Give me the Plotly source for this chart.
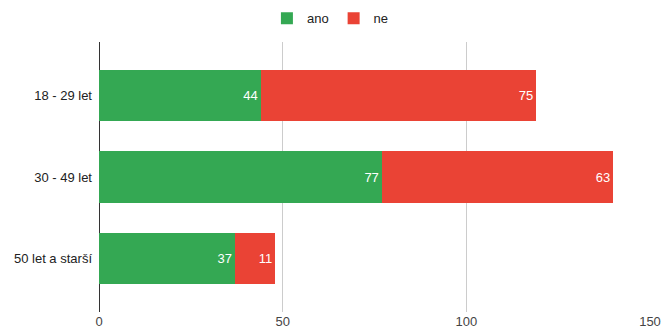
import plotly.graph_objects as go

categories = ["18 - 29 let", "30 - 49 let", "50 let a starší"]
ano = [44, 77, 37]
ne = [75, 63, 11]
x_ticks = [0, 50, 100, 150]

GREEN = "#34a853"
RED = "#ea4335"

fig = go.Figure()
for name, vals, col in [("ano", ano, GREEN), ("ne", ne, RED)]:
    fig.add_trace(go.Bar(
        y=categories, x=vals, name=name, orientation="h",
        marker=dict(color=col, line=dict(width=0)),
        width=0.63,
        text=[str(v) for v in vals], textposition="inside",
        insidetextanchor="end", textangle=0,
        textfont=dict(color="white", size=13, family="Liberation Sans, Arial"),
    ))

fig.update_layout(
    barmode="stack",
    width=662, height=331,
    margin=dict(l=99, r=12, t=42, b=19, autoexpand=False),
    paper_bgcolor="white", plot_bgcolor="white",
    font=dict(family="Liberation Sans, Arial", size=13, color="#222222"),
    showlegend=True,
    legend=dict(orientation="h", x=0.42, xanchor="center", y=0.945, yanchor="middle",
                yref="container", font=dict(size=13, color="#222222"),
                traceorder="normal"),
    xaxis=dict(range=[0, 150], tickvals=x_ticks, showgrid=True, gridcolor="#cccccc",
               gridwidth=1, zeroline=True, zerolinecolor="#333333", zerolinewidth=1,
               showline=False, ticks="", automargin=False,
               tickfont=dict(size=13, color="#444444")),
    yaxis=dict(range=[2.66, -0.66], showgrid=False, ticks="", ticklabelstandoff=6,
               automargin=False, tickfont=dict(size=13, color="#222222")),
)

fig.write_html("out.html")
